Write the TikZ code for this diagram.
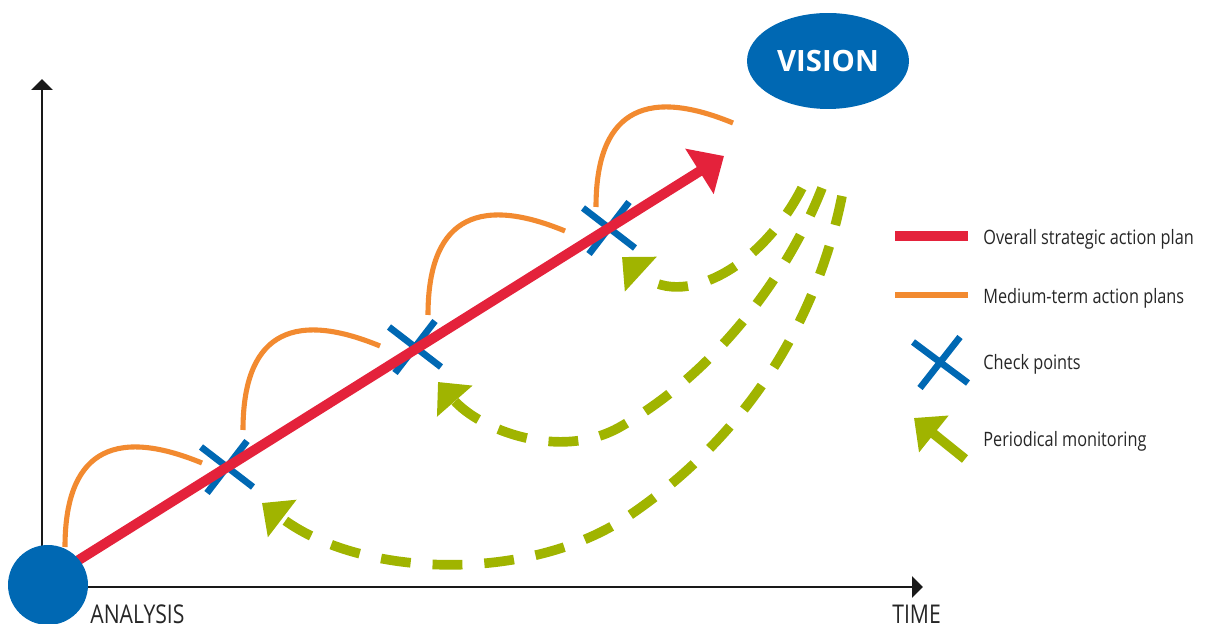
\documentclass[tikz,border=0pt]{standalone}
\usepackage{fontspec}
\setmainfont[FakeStretch=0.82]{Open Sans}
\newfontfamily\visionfont{Open Sans}
\usetikzlibrary{arrows.meta, shapes.geometric, positioning, calc}
\definecolor{planred}{HTML}{E4223B}
\definecolor{planorange}{HTML}{F28A30}
\definecolor{checkblue}{HTML}{0068B3}
\definecolor{monitorgreen}{HTML}{A0B400}

\begin{document}
\begin{tikzpicture}[x=0.02cm, y=-0.02cm,
    axis/.style={line width=1.4pt, black!90, -{Triangle[length=6.2pt,width=12pt]}},
    overall/.style={line width=5.7pt, planred, -{Triangle[length=16.5pt,width=29.5pt]}},
    medium/.style={line width=2.9pt, planorange},
    check/.style={line width=3.8pt, checkblue},
    monitor/.style={line width=5.5pt, monitorgreen, dash pattern=on 17pt off 12.5pt,
        -{Triangle[length=14.5pt,width=26pt]}},
    legend/.style={anchor=base west, inner sep=0pt, text=black!85,
        font=\fontsize{11.3}{13}\selectfont},
    axislabel/.style={anchor=base west, inner sep=0pt, text=black!85,
        font=\fontsize{14.7}{16}\selectfont}]

    \useasboundingbox (0,0) rectangle (1207,624);

    \coordinate (origin) at (42,587);
    \coordinate (ytop) at (42,79);
    \coordinate (xend) at (923,587);
    \draw[axis] (origin) -- (ytop);
    \draw[axis] (origin) -- (xend);

    \foreach \sx/\sy in {65/547, 243/430, 428/315, 596/207}
        \draw[medium] (\sx,\sy) .. controls (\sx,\sy-92) and (\sx+45,\sy-122) .. (\sx+137,\sy-84);

    \coordinate (cp1) at (227,467);
    \coordinate (cp2) at (415,347);
    \coordinate (cp3) at (609,228);
    \foreach \c in {cp1, cp2, cp3}
        \draw[check] (\c) +(-26,-20) -- +(26,20) +(-20,26) -- +(20,-26);

    \coordinate (start) at (50,578);
    \coordinate (goal) at (724,156);
    \draw[overall] (start) -- (goal);

    \node[circle, fill=checkblue, minimum size=1.6cm, inner sep=0pt] (analysis) at (48,585) {};
    \node[axislabel] (analysislabel) at (90,623) {ANALYSIS};
    \node[axislabel] (timelabel) at (892,623) {TIME};

    \node[ellipse, fill=checkblue, minimum width=3.24cm, minimum height=1.92cm, inner sep=0pt,
        text=white, font=\visionfont\bfseries\fontsize{16.7}{18}\selectfont] (vision) at (828,61) {VISION};

    \coordinate (m1s) at (802,188);
    \coordinate (m1e) at (622,257);
    \coordinate (m2s) at (822,188);
    \coordinate (m2e) at (438,382);
    \coordinate (m3s) at (842,196);
    \coordinate (m3e) at (262,503);
    \draw[monitor] (m1s) .. controls (760,270) and (680,310) .. (m1e);
    \draw[monitor] (m2s) .. controls (790,270) and (720,370) .. (620,427)
        .. controls (560,461) and (480,430) .. (m2e);
    \draw[monitor] (m3s) .. controls (815,330) and (740,440) .. (630,515)
        .. controls (530,584) and (360,578) .. (m3e);

    \draw[line width=5.7pt, planred] (895,236) -- (968,236);
    \node[legend] (overalltext) at (983,245) {Overall strategic action plan};
    \draw[medium] (895,295) -- (968,295);
    \node[legend] (mediumtext) at (983,303.5) {Medium-term action plans};
    \coordinate (cpkey) at (940,362);
    \draw[check] (cpkey) +(-27,-20) -- +(28,21) +(-20,26) -- +(20,-25);
    \node[legend] (checktext) at (983,370) {Check points};
    \coordinate (monkeys) at (965,459);
    \coordinate (monkeye) at (914,418);
    \draw[monitor, solid] (monkeys) -- (monkeye);
    \node[legend] (monitortext) at (983,447) {Periodical monitoring};
\end{tikzpicture}
\end{document}
